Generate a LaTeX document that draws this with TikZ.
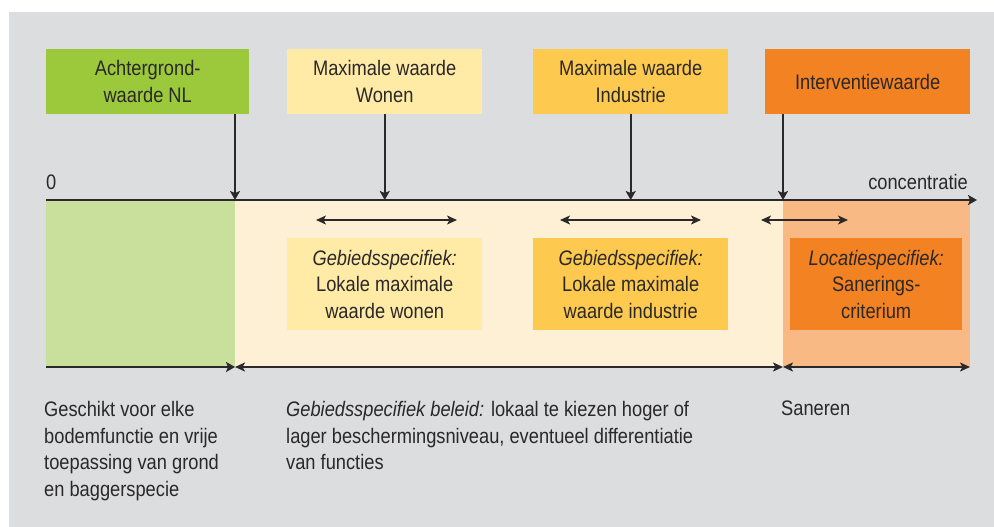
\documentclass[tikz,border=0pt]{standalone}
\usepackage{fontspec}
\setmainfont{Liberation Sans}[FakeStretch=0.87]
\usetikzlibrary{arrows.meta,positioning}
\definecolor{achtergrijs}{HTML}{DCDDDF}
\definecolor{tekstgrijs}{HTML}{2A2828}
\definecolor{groen}{HTML}{9BC93B}
\definecolor{lichtgroen}{HTML}{C9E09C}
\definecolor{geel}{HTML}{FFEBA6}
\definecolor{creme}{HTML}{FEF0D4}
\definecolor{oker}{HTML}{FDC94E}
\definecolor{oranje}{HTML}{F38222}
\definecolor{lichtoranje}{HTML}{F8B984}

\begin{document}
\begin{tikzpicture}[x=1pt, y=-1pt, font=\fontsize{21}{26.7}\selectfont,
  every node/.style={text=tekstgrijs, inner sep=0pt},
  waardebox/.style={minimum height=65, align=center, anchor=north west},
  specbox/.style={minimum height=92, align=center, anchor=north west},
  pijl/.style={-{Stealth[length=9pt, width=10pt, inset=2pt]}, line width=1.8pt, draw=tekstgrijs},
  bereik/.style={{Stealth[length=10pt, width=9pt, inset=2.5pt]}-{Stealth[length=10pt, width=9pt, inset=2.5pt]}, line width=1.4pt, draw=tekstgrijs}]
\useasboundingbox (0,0) rectangle (994,527);
\fill[white] (0,0) rectangle (994,527);
\fill[achtergrijs] (9,12) rectangle (994,527);

% banden onder de as
\fill[lichtgroen] (46,201) rectangle (235,367);
\fill[creme] (235,201) rectangle (783,367);
\fill[lichtoranje] (783,201) rectangle (970,367);

% normwaarden
\node[waardebox, fill=groen, minimum width=203] (achtergrond) at (46,49) {Achtergrond-\\waarde NL};
\node[waardebox, fill=geel, minimum width=195] (wonen) at (287,49) {Maximale waarde\\Wonen};
\node[waardebox, fill=oker, minimum width=195] (industrie) at (533,49) {Maximale waarde\\Industrie};
\node[waardebox, fill=oranje, minimum width=205] (interventie) at (765,49) {Interventiewaarde};

% as
\coordinate (nul) at (46,200);
\coordinate (eind) at (977,200);
\coordinate (g1) at (235,200);
\coordinate (g2) at (783,200);
\draw[pijl] (nul) -- (eind);
\node[anchor=base west] (nullabel) at (46,189) {0};
\node[anchor=base east] (conc) at (968,189) {concentratie};

\draw[pijl] (achtergrond.south -| g1) -- (g1);
\draw[pijl] (wonen.south) -- (wonen.south |- nul);
\draw[pijl] (industrie.south) -- (industrie.south |- nul);
\draw[pijl] (interventie.south -| g2) -- (g2);

% bandbreedtes
\foreach \a/\b [count=\i] in {316/457, 560/701, 761/848} {
  \coordinate (l\i) at (\a,220);
  \coordinate (r\i) at (\b,220);
  \draw[bereik] (l\i) -- (r\i);
}

\node[specbox, fill=geel, minimum width=195] (lokaalwonen) at (287,238) {\textit{Gebiedsspecifiek:}\\Lokale maximale\\waarde wonen};
\node[specbox, fill=oker, minimum width=195] (lokaalindustrie) at (533,238) {\textit{Gebiedsspecifiek:}\\Lokale maximale\\waarde industrie};
\node[specbox, fill=oranje, minimum width=172] (sanering) at (790,238) {\textit{Locatiespecifiek:}\\Sanerings-\\criterium};

% onderste pijlen
\coordinate (o0) at (46,367);
\coordinate (o1) at (235,367);
\coordinate (o2) at (783,367);
\coordinate (o3) at (970,367);
\draw[pijl] (o0) -- (o1);
\draw[bereik, line width=1.8pt] (o1) -- (o2);
\draw[bereik, line width=1.8pt] (o2) -- (o3);

\node[anchor=north west, align=left] (vrij) at (44,401) {Geschikt voor elke\\bodemfunctie en vrije\\toepassing van grond\\en baggerspecie};
\node[anchor=north west, align=left] (beleid) at (286,401) {\textit{Gebiedsspecifiek beleid:} lokaal te kiezen hoger of\\lager beschermingsniveau, eventueel differentiatie\\van functies};
\node[anchor=north west, align=left] (saneren) at (781,401) {Saneren};
\end{tikzpicture}
\end{document}
